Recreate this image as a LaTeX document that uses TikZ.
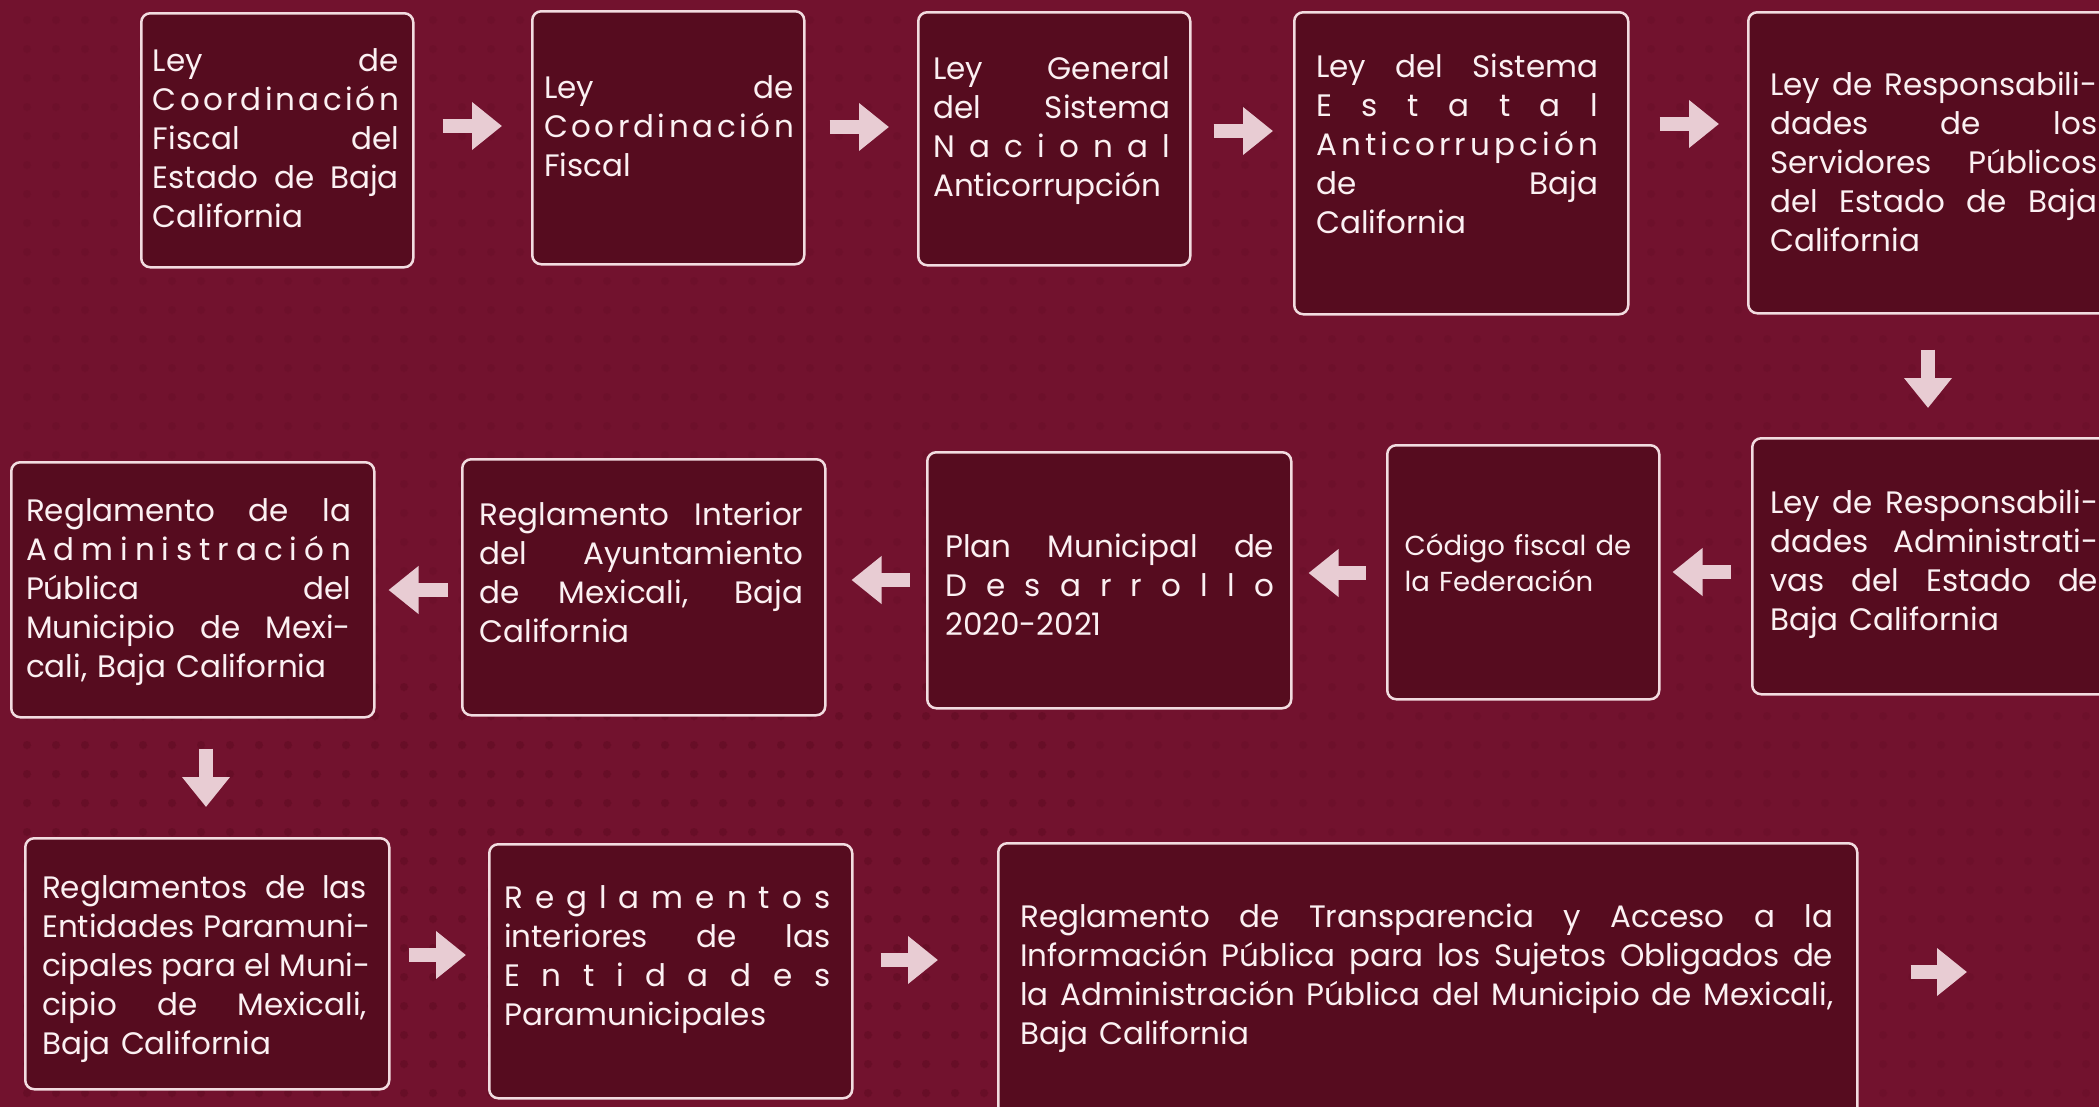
\documentclass[tikz,border=0pt]{standalone}
\usepackage{fontspec}
\setmainfont{Poppins}
\usetikzlibrary{arrows.meta}

\definecolor{bgred}{HTML}{8C1A3B}
\definecolor{bgdark}{HTML}{72122E}
\definecolor{boxfill}{HTML}{560C1F}
\definecolor{boxline}{HTML}{F2DCE0}
\definecolor{arrowpink}{HTML}{E8CCD3}
\definecolor{txtwhite}{HTML}{FBF0F2}
\definecolor{dotred}{HTML}{5A0B20}

% justified line, and a word spread letter by letter
\newcommand\jl[1]{\makebox[\linewidth][s]{\spaceskip=\fontdimen2\font plus 1fil\relax #1}\\}
\def\spreadloop#1{\ifx#1\relax\unskip\else#1\hskip0pt plus 1fil\relax\expandafter\spreadloop\fi}
\newcommand\spreadw[1]{\makebox[\linewidth][s]{\spreadloop#1\relax}\\}

\begin{document}
\begin{tikzpicture}[x=1pt,y=-1pt,
    box/.style={draw=boxline,line width=2.5pt,rounded corners=9pt,
        fill=boxfill,inner sep=0pt,anchor=north west},
    txt/.style={text=txtwhite,font=\fontsize{31}{39}\selectfont,
        align=left,inner sep=0pt,anchor=base west},
    flow/.style={draw=arrowpink,line width=14pt,
        -{Triangle[length=30pt,width=46pt]}},
    bgdot/.style={fill=dotred,opacity=.18}]
\useasboundingbox (0,0) rectangle (2099,1106);
\clip (0,0) rectangle (2099,1106);

% background
\shade[left color=bgdark,middle color=bgred,right color=bgdark] (0,0) rectangle (2099,1106);
\fill[bgdark,opacity=.7] (0,0) -- (560,0) -- (0,640) -- cycle;
\fill[bgdark,opacity=.35] (560,0) -- (820,0) -- (0,940) -- (0,640) -- cycle;
\foreach \i in {0,...,72}
  \foreach \j in {0,...,37}
    \fill[bgdot] (27+29*\i,20+29*\j) circle (4pt);
\foreach \i in {0,...,36}
  \foreach \j in {23,...,37}
    \fill[bgdot,opacity=.3] (27+29*\i,20+29*\j) circle (4pt);

% row 1
\node[box,minimum width=272,minimum height=254] (b1) at (140,12) {};
\node[box,minimum width=272,minimum height=253] (b2) at (531,10) {};
\node[box,minimum width=272,minimum height=253] (b3) at (917,11) {};
\node[box,minimum width=334,minimum height=302] (b4) at (1293,11) {};
\node[box,minimum width=370,minimum height=301] (b5) at (1747,11) {};
% row 2
\node[box,minimum width=370,minimum height=256] (b6) at (1751,437) {};
\node[box,minimum width=272,minimum height=254] (b7) at (1386,444) {};
\node[box,minimum width=364,minimum height=256] (b8) at (926,451) {};
\node[box,minimum width=363,minimum height=256] (b9) at (461,458) {};
\node[box,minimum width=363,minimum height=255] (b10) at (10,461) {};
% row 3
\node[box,minimum width=364,minimum height=251] (b11) at (24,837) {};
\node[box,minimum width=363,minimum height=254] (b12) at (488,843) {};
\node[box,minimum width=859,minimum height=290] (b13) at (997,842) {};
\coordinate (end) at (1967,972);

\node[txt,text width=246] at ([shift={(12.7,59.7)}]b1.north west)
  {\jl{Ley de}\spreadw{Coordinación}\jl{Fiscal del}\jl{Estado de Baja}California};
\node[txt,text width=250] at ([shift={(12.8,88.3)}]b2.north west)
  {\jl{Ley de}\spreadw{Coordinación}Fiscal};
\node[txt,text width=237] at ([shift={(16,68)}]b3.north west)
  {\jl{Ley General}\jl{del Sistema}\spreadw{Nacional}Anticorrupción};
\node[txt,text width=282] at ([shift={(23,66)}]b4.north west)
  {\jl{Ley del Sistema}\spreadw{Estatal}\spreadw{Anticorrupción}\jl{de Baja}California};
\node[txt,text width=327] at ([shift={(23,84)}]b5.north west)
  {\jl{Ley de Responsabili-}\jl{dades de los}\jl{Servidores Públicos}\jl{del Estado de Baja}California};
\node[txt,text width=328] at ([shift={(19,76.3)}]b6.north west)
  {\jl{Ley de Responsabili-}\jl{dades Administrati-}\jl{vas del Estado de}Baja California};
\node[txt,text width=232,font=\fontsize{27.5}{36.7}\selectfont] at ([shift={(18.5,111)}]b7.north west)
  {Código fiscal de\\la Federación};
\node[txt,text width=329] at ([shift={(19,106)}]b8.north west)
  {\jl{Plan Municipal de}\spreadw{Desarrollo}2020-2021};
\node[txt,text width=324] at ([shift={(18.3,67)}]b9.north west)
  {\jl{Reglamento Interior}\jl{del Ayuntamiento}\jl{de Mexicali, Baja}California};
\node[txt,text width=325] at ([shift={(15.8,60.7)}]b10.north west)
  {\jl{Reglamento de la}\spreadw{Administración}\jl{Pública del}\jl{Municipio de Mexi-}cali, Baja California};
\node[txt,text width=325] at ([shift={(17.9,61)}]b11.north west)
  {\jl{Reglamentos de las}\jl{Entidades Paramuni-}\jl{cipales para el Muni-}\jl{cipio de Mexicali,}Baja California};
\node[txt,text width=326] at ([shift={(16,65.3)}]b12.north west)
  {\spreadw{Reglamentos}\jl{interiores de las}\spreadw{Entidades}Paramunicipales};
\node[txt,text width=813] at ([shift={(23,85.3)}]b13.north west)
  {\jl{Reglamento de Transparencia y Acceso a la}\jl{Información Pública para los Sujetos Obligados de}\jl{la Administración Pública del Municipio de Mexicali,}Baja California};

% arrows
\foreach \a/\b/\y/\s/\t in {b1.east/b2.west/126/28pt/29pt, b2.east/b3.west/127/24pt/28pt,
    b3.east/b4.west/131/22pt/20pt, b4.east/b5.west/124/30pt/28pt,
    b6.west/b7.east/572/20pt/12pt, b7.west/b8.east/573/20pt/16pt,
    b8.west/b9.east/580/16pt/25pt, b9.west/b10.east/590/13pt/13pt,
    b11.east/b12.west/955/18pt/22pt, b12.east/b13.west/960/27pt/59pt,
    b13.east/end/972/52pt/0pt}
  \draw[flow,shorten <=\s,shorten >=\t] (\a |- 0,\y) -- (\b |- 0,\y);
\draw[flow,shorten <=35pt,shorten >=29pt] (b5.south -| 1928,0) -- (b6.north -| 1928,0);
\draw[flow,shorten <=30pt,shorten >=30pt] (b10.south -| 206,0) -- (b11.north -| 206,0);

\end{tikzpicture}
\end{document}
